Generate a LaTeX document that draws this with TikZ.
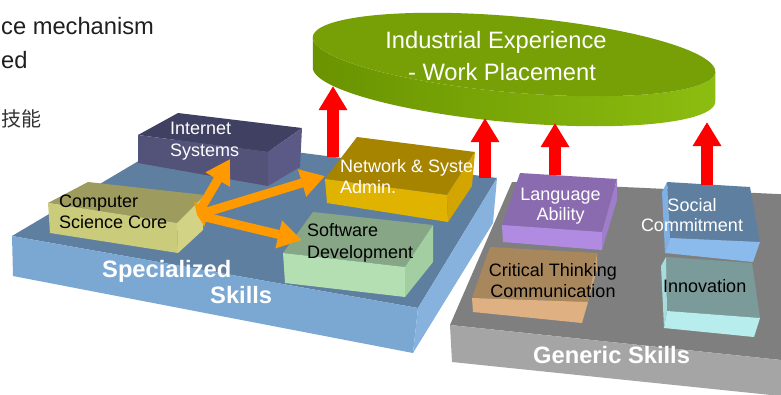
\documentclass[tikz,border=0pt]{standalone}
\usepackage{fontspec}
\setmainfont{Liberation Sans}
\newfontfamily\cjkfont{Noto Sans CJK SC}
\usetikzlibrary{arrows.meta}

% face colours: top / front / side of each block
\definecolor{slabTop}{HTML}{5F7FA0}
\definecolor{slabFront}{HTML}{7BA7D3}
\definecolor{slabSide}{HTML}{86B2DD}
\definecolor{greyTop}{HTML}{7F7F7F}
\definecolor{greyFront}{HTML}{A5A5A5}
\definecolor{inetTop}{HTML}{404062}
\definecolor{inetFront}{HTML}{535279}
\definecolor{inetSide}{HTML}{5B5985}
\definecolor{cscTop}{HTML}{9D9B5D}
\definecolor{cscFront}{HTML}{CBCB7C}
\definecolor{cscSide}{HTML}{D3D385}
\definecolor{netTop}{HTML}{A68400}
\definecolor{netFront}{HTML}{DFB300}
\definecolor{netSide}{HTML}{D2A500}
\definecolor{swTop}{HTML}{86A686}
\definecolor{swFront}{HTML}{B3DFB3}
\definecolor{swSide}{HTML}{A2CEA2}
\definecolor{langTop}{HTML}{8B6BAF}
\definecolor{langFront}{HTML}{B18AE2}
\definecolor{langSide}{HTML}{9E7ECB}
\definecolor{critTop}{HTML}{A8875D}
\definecolor{critFront}{HTML}{DFB182}
\definecolor{critSide}{HTML}{C9A06F}
\definecolor{socTop}{HTML}{5F7FA1}
\definecolor{socFront}{HTML}{8BBAEC}
\definecolor{socSide}{HTML}{7FB0E4}
\definecolor{innTop}{HTML}{7A9B99}
\definecolor{innFront}{HTML}{B8EDED}
\definecolor{innSide}{HTML}{A6DCDC}
\definecolor{ellTop}{HTML}{76A006}
\definecolor{bandL}{HTML}{6A9300}
\definecolor{bandR}{HTML}{8CBD10}
\definecolor{linkOrange}{HTML}{FF9900}
\definecolor{liftRed}{HTML}{FF0000}

\tikzset{
  lbl/.style={anchor=base west, inner sep=0pt, font=\fontsize{18}{21}\selectfont},
  lblc/.style={anchor=base, inner sep=0pt, font=\fontsize{18}{21}\selectfont},
  bigc/.style={anchor=base, inner sep=0pt, font=\fontsize{23.7}{28}\selectfont, text=white},
  bigbold/.style={anchor=base west, inner sep=0pt, font=\bfseries\fontsize{23.7}{28}\selectfont, text=white},
  slidetext/.style={anchor=base west, inner sep=0pt, font=\fontsize{23.7}{28}\selectfont, text=black!88},
  uparrow/.style={draw=liftRed, line width=12pt, -{Triangle[width=27pt,length=24pt]}},
  linkarrow/.style={draw=linkOrange, line width=9pt,
    {Triangle[width=18pt,length=10pt]}-{Triangle[width=27pt,length=24pt]}},
}

\begin{document}
\begin{tikzpicture}[x=1pt,y=-1pt]
\useasboundingbox (0,0) rectangle (781,394);
\clip (0,0) rectangle (781,394);
\fill[white] (0,0) rectangle (781,394);

% slide text fragments
\node[slidetext] (t1) at (1,34) {ce mechanism};
\node[slidetext] (t2) at (1,68) {ed};
\node[anchor=base west, inner sep=0pt, font=\cjkfont\fontsize{20}{24}\selectfont, text=black!80] (t3) at (1,126) {技能};

% specialized skills slab
\fill[slabTop]   (12,236) -- (179,137) -- (497,178) -- (418,308) -- cycle;
\fill[slabFront] (12,236) -- (418,308) -- (413,353) -- (13,276) -- cycle;
\fill[slabSide]  (418,308) -- (497,178) -- (493,223) -- (413,353) -- cycle;

% generic skills slab (runs past the right edge)
\fill[greyTop]   (512,182) -- (800,195) -- (800,362) -- (450,325) -- cycle;
\fill[greyFront] (450,325) -- (800,362) -- (800,398) -- (452,362) -- cycle;

% Internet Systems block
\fill[inetTop]   (138,135) -- (178,113) -- (302,128) -- (268,152) -- cycle;
\fill[inetFront] (138,135) -- (268,152) -- (268,186) -- (138,163) -- cycle;
\fill[inetSide]  (268,152) -- (302,128) -- (300,167) -- (268,186) -- cycle;

% Computer Science Core block
\fill[cscTop]   (48,203) -- (88,182) -- (205,195) -- (177,223) -- cycle;
\fill[cscFront] (48,203) -- (177,223) -- (178,253) -- (50,233) -- cycle;
\fill[cscSide]  (177,223) -- (205,195) -- (203,230) -- (178,253) -- cycle;

% Network & System Admin. block
\fill[netTop]   (325,179) -- (357,137) -- (475,152) -- (447,195) -- cycle;
\fill[netFront] (325,179) -- (447,195) -- (448,222) -- (327,203) -- cycle;
\fill[netSide]  (447,195) -- (475,152) -- (472,186) -- (448,222) -- cycle;

% Software Development block
\fill[swTop]   (283,253) -- (313,212) -- (433,225) -- (405,267) -- cycle;
\fill[swFront] (283,253) -- (405,267) -- (405,297) -- (285,283) -- cycle;
\fill[swSide]  (405,267) -- (433,225) -- (433,262) -- (405,297) -- cycle;

% Language Ability block
\fill[langTop]   (502,225) -- (520,173) -- (617,179) -- (602,232) -- cycle;
\fill[langFront] (502,225) -- (602,232) -- (602,250) -- (503,242) -- cycle;
\fill[langSide]  (602,232) -- (617,179) -- (617,200) -- (602,250) -- cycle;

% Critical Thinking / Communication block
\fill[critTop]   (472,298) -- (490,247) -- (597,253) -- (588,302) -- cycle;
\fill[critFront] (472,298) -- (588,302) -- (582,323) -- (473,312) -- cycle;
\fill[critSide]  (588,302) -- (597,253) -- (597,270) -- (582,323) -- cycle;

% Social Commitment block
\fill[socTop]   (667,182) -- (750,187) -- (760,242) -- (670,238) -- cycle;
\fill[socFront] (670,238) -- (760,242) -- (753,262) -- (665,253) -- cycle;
\fill[socSide]  (667,182) -- (670,238) -- (665,253) -- (662,192) -- cycle;

% Innovation block
\fill[innTop]   (666,257) -- (752,263) -- (760,318) -- (667,311) -- cycle;
\fill[innFront] (667,311) -- (760,318) -- (754,337) -- (664,328) -- cycle;
\fill[innSide]  (666,257) -- (667,311) -- (664,328) -- (661,266) -- cycle;

% links from the core to the specialisations
\coordinate (hub) at (197,215);
\coordinate (inetTip) at (230,159);
\coordinate (netTip) at (325,176);
\coordinate (swTip) at (302,240);
\draw[linkarrow] (hub) -- (inetTip);
\draw[linkarrow] (hub) -- (netTip);
\draw[linkarrow] (hub) -- (swTip);

% block labels
\node[lbl, text=white] (inet1) at (170,134) {Internet};
\node[lbl, text=white] (inet2) at (170,156) {Systems};
\node[lbl] (csc1) at (59,207) {Computer};
\node[lbl] (csc2) at (59,228) {Science Core};
\node[lbl, text=white] (net1) at (340,172) {Network \& System};
\node[lbl, text=white] (net2) at (340,193) {Admin.};
\node[lbl] (sw1) at (307,236) {Software};
\node[lbl] (sw2) at (307,258) {Development};
\node[lblc, text=white] (lang1) at (560.5,200) {Language};
\node[lblc, text=white] (lang2) at (560.5,220) {Ability};
\node[lblc] (crit1) at (553,276) {Critical Thinking};
\node[lblc] (crit2) at (553,297) {Communication};
\node[lblc, text=white] (soc1) at (692,211) {Social};
\node[lblc, text=white] (soc2) at (692,231) {Commitment};
\node[lbl] (inn) at (663,292) {Innovation};
\node[bigbold] (spec1) at (102,277) {Specialized};
\node[bigbold] (spec2) at (210,303) {Skills};
\node[bigbold] (gen) at (533,363) {Generic Skills};

% industrial experience disc: side band, then top face
\path[left color=bandL, right color=bandR]
  plot[domain=-0.94:179.06, samples=72, variable=\t]
    ({514+202*cos(\t)*cos(5)-38*sin(\t)*sin(5)}, {84.5+202*cos(\t)*sin(5)+38*sin(\t)*cos(5)})
  -- plot[domain=0:180, samples=72, variable=\s]
    ({514+202*cos(179.06-\s)*cos(5)-38*sin(179.06-\s)*sin(5)}, {54.5+202*cos(179.06-\s)*sin(5)+38*sin(179.06-\s)*cos(5)})
  -- cycle;
\fill[ellTop] plot[domain=0:360, samples=120, variable=\t]
    ({514+202*cos(\t)*cos(5)-38*sin(\t)*sin(5)}, {54.5+202*cos(\t)*sin(5)+38*sin(\t)*cos(5)}) -- cycle;
\node[bigc] (ind1) at (496,48) {Industrial Experience};
\node[bigc] (ind2) at (502,80) {- Work Placement};

% lifts up to the industrial experience
\coordinate (r1a) at (333,157); \coordinate (r1b) at (333,86);
\coordinate (r2a) at (485,178); \coordinate (r2b) at (485,118);
\coordinate (r3a) at (555,175); \coordinate (r3b) at (555,123);
\coordinate (r4a) at (707,185); \coordinate (r4b) at (707,122);
\draw[uparrow] (r1a) -- (r1b);
\draw[uparrow] (r2a) -- (r2b);
\draw[uparrow] (r3a) -- (r3b);
\draw[uparrow] (r4a) -- (r4b);
\end{tikzpicture}
\end{document}
